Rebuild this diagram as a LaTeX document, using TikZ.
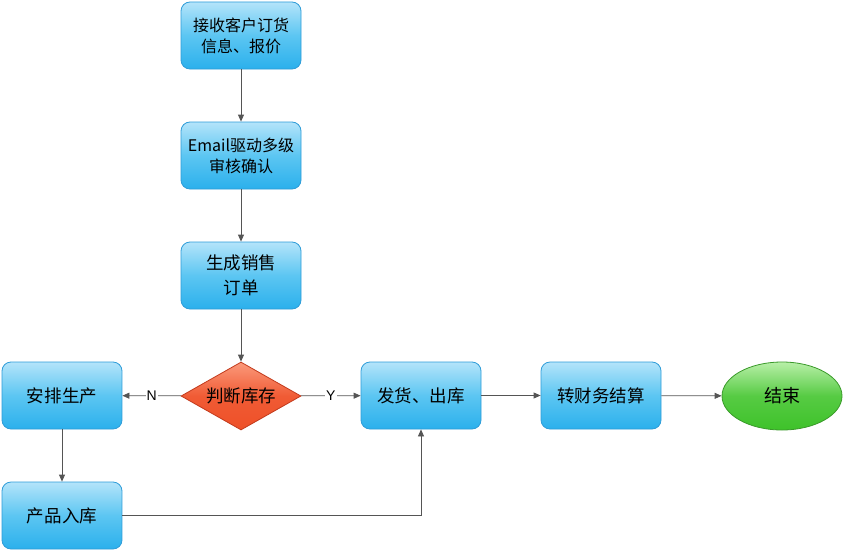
\documentclass[tikz,border=0pt]{standalone}
\usepackage{fontspec}
\setmainfont{Liberation Sans}
\newfontfamily\cjk{Noto Sans CJK SC}
\usetikzlibrary{shapes.geometric,arrows.meta}
\definecolor{bluetop}{HTML}{B4E4FA}
\definecolor{bluemid}{HTML}{5CC6F2}
\definecolor{bluebot}{HTML}{2BB0EC}
\definecolor{blueedge}{HTML}{2E9CD8}
\definecolor{redtop}{HTML}{FB9A7C}
\definecolor{redbot}{HTML}{EE5028}
\definecolor{rededge}{HTML}{C23A1C}
\definecolor{greentop}{HTML}{B8EFA8}
\definecolor{greenbot}{HTML}{3EC22A}
\definecolor{greenedge}{HTML}{3A9A2A}
\definecolor{linec}{HTML}{555555}
\tikzset{
  x=1pt,y=-1pt,
  box/.style={draw=blueedge,line width=0.8pt,rounded corners=9pt,minimum width=120pt,minimum height=67pt,
    top color=bluetop,bottom color=bluebot,middle color=bluemid,align=center,font=\cjk\fontsize{17.5}{25}\selectfont,inner sep=2pt},
  smallbox/.style={box,font=\cjk\fontsize{16}{21}\selectfont},
  decide/.style={diamond,draw=rededge,line width=0.8pt,minimum width=120pt,minimum height=68pt,aspect=1.76,inner sep=0pt,
    top color=redtop,bottom color=redbot,middle color=redbot!85!redtop,font=\cjk\fontsize{17.5}{21}\selectfont},
  endnode/.style={ellipse,draw=greenedge,line width=0.8pt,minimum width=120pt,minimum height=68pt,inner sep=0pt,
    top color=greentop,bottom color=greenbot,middle color=greenbot!80!greentop,font=\cjk\fontsize{18}{21}\selectfont},
  conn/.style={draw=linec,line width=0.8pt,-{Triangle[length=7pt,width=6pt]}},
  lbl/.style={font=\fontsize{14}{16}\selectfont,fill=white,inner sep=1pt}
}
\begin{document}
\begin{tikzpicture}
\useasboundingbox (0,0) rectangle (845,551);
\node[smallbox] (a) at (241,35.5) {接收客户订货\\信息、报价};
\node[smallbox] (b) at (241,155.5) {Email驱动多级\\审核确认};
\node[box] (c) at (241,275.5) {生成销售\\订单};
\node[decide] (d) at (241,396) {判断库存};
\node[box] (e) at (62,395.5) {安排生产};
\node[box] (f) at (62,515.5) {产品入库};
\node[box] (g) at (421,395.5) {发货、出库};
\node[box] (h) at (601,395.5) {转财务结算};
\node[endnode] (i) at (782,396) {结束};
\draw[conn] (a) -- (b);
\draw[conn] (b) -- (c);
\draw[conn] (c) -- (d);
\draw[conn] (d) -- node[lbl,pos=0.5] {N} (e);
\draw[conn] (d) -- node[lbl,pos=0.5] {Y} (g);
\draw[conn] (e) -- (f);
\draw[conn] (f.east) -| (g.south);
\draw[conn] (g) -- (h);
\draw[conn] (h) -- (i);
\end{tikzpicture}
\end{document}
